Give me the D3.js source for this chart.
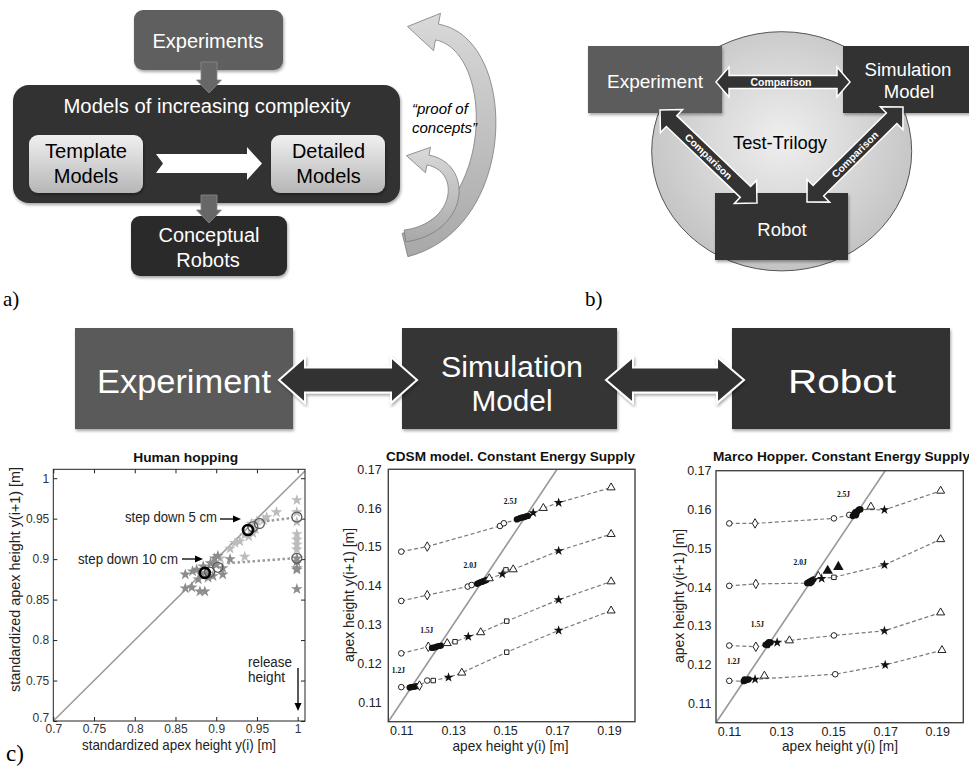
<!DOCTYPE html>
<html>
<head>
<meta charset="utf-8">
<script src="https://cdn.jsdelivr.net/npm/d3@7"></script>
<style>
body { margin: 0; background: #fff; }
svg { display: block; }
text { font-family: "Liberation Sans", Arial, sans-serif; }
</style>
</head>
<body>
<script>
// panel c, left: human hopping
var humanTicks = [0.7, 0.75, 0.8, 0.85, 0.9, 0.95, 1];
var hop5Stars = [[0.974,0.958],[0.962,0.952],[0.958,0.948],[0.950,0.947],[0.945,0.932],[0.935,0.930],[0.929,0.922],
  [0.923,0.920],[0.917,0.913],[0.905,0.901],[0.935,0.903],[0.943,0.944],[0.948,0.937],[0.940,0.928],
  [0.999,0.973],[0.999,0.958],[0.999,0.946],[0.999,0.931],[0.999,0.924],[0.999,0.918],[0.999,0.912]];
var hop10Stars = [[0.862,0.881],[0.871,0.885],[0.862,0.864],[0.870,0.865],[0.880,0.860],[0.886,0.860],[0.878,0.875],
  [0.890,0.877],[0.898,0.901],[0.900,0.893],[0.908,0.889],[0.908,0.881],[0.917,0.900],[0.896,0.879],[0.882,0.881],
  [0.884,0.891],[0.893,0.895],[0.902,0.904],[0.876,0.887],[0.889,0.882],
  [0.999,0.901],[0.999,0.897],[0.999,0.889],[0.999,0.887],[0.999,0.863]];
var hop5Circles = [[0.945,0.940],[0.953,0.944],[0.999,0.952]];
var hop10Circles = [[0.892,0.884],[0.902,0.890],[0.999,0.901]];
var hopMeans = [[0.939,0.936],[0.886,0.883]];
var hop5Dotted = [[0.962,0.947],[0.994,0.951]];
var hop10Dotted = [[0.914,0.895],[0.994,0.901]];

// panel c, middle and right: apex return maps
var apexXTicks = [0.11, 0.13, 0.15, 0.17, 0.19];
var apexYTicks = [0.11, 0.12, 0.13, 0.14, 0.15, 0.16, 0.17];
var energyNames = ["1.2J", "1.5J", "2.0J", "2.5J"];

var cdsm12 = [[0.110,0.1139,"o"],[0.1132,0.1138,"•"],[0.1138,0.1139,"•"],[0.1144,0.1140,"•"],[0.1150,0.1140,"•"],
  [0.1156,0.1141,"•"],[0.1162,0.1142,"•"],[0.1170,0.1143,"d"],[0.120,0.1156,"o"],[0.1223,0.1156,"s"],
  [0.1282,0.1164,"*"],[0.1333,0.1176,"^"],[0.1506,0.1229,"s"],[0.1706,0.1285,"*"],[0.1908,0.1336,"^"]];
var cdsm15 = [[0.110,0.1226,"o"],[0.1204,0.1243,"d"],[0.1218,0.1240,"•"],[0.1225,0.1241,"•"],[0.1232,0.1242,"•"],
  [0.1239,0.1244,"•"],[0.1246,0.1245,"•"],[0.1253,0.1246,"•"],[0.1277,0.1252,"^"],[0.1307,0.1256,"s"],
  [0.1358,0.1269,"*"],[0.1406,0.1280,"^"],[0.1506,0.1309,"s"],[0.1706,0.1364,"*"],[0.1908,0.1411,"^"]];
var cdsm20 = [[0.110,0.1361,"o"],[0.120,0.1376,"d"],[0.1356,0.1398,"o"],[0.1371,0.1402,"o"],[0.1392,0.1405,"•"],
  [0.1398,0.1407,"•"],[0.1404,0.1409,"•"],[0.1410,0.1410,"•"],[0.1416,0.1412,"•"],[0.1422,0.1413,"•"],[0.1428,0.1415,"•"],
  [0.1439,0.1419,"^"],[0.1489,0.1430,"*"],[0.1503,0.1441,"s"],[0.1531,0.1442,"^"],[0.1706,0.1490,"*"],[0.1908,0.1533,"^"]];
var cdsm25 = [[0.110,0.1488,"o"],[0.120,0.1501,"d"],[0.1480,0.1554,"o"],[0.1495,0.1561,"o"],[0.1545,0.1571,"•"],
  [0.1553,0.1573,"•"],[0.1560,0.1575,"•"],[0.1567,0.1576,"•"],[0.1574,0.1577,"•"],[0.1581,0.1579,"•"],[0.1588,0.1580,"•"],
  [0.1608,0.1588,"*"],[0.1647,0.1600,"^"],[0.1706,0.1614,"*"],[0.1908,0.1653,"^"]];
var cdsmLabelAt = [[0.1089,0.1175],[0.1198,0.1279],[0.1365,0.1445],[0.1520,0.1610]];

var marco12 = [[0.1101,0.1158,"o"],[0.1156,0.1157,"•"],[0.1160,0.1162,"•"],[0.1161,0.1158,"•"],[0.1166,0.1160,"•"],
  [0.1171,0.1161,"•"],[0.1176,0.1162,"•"],[0.1200,0.1162,"*"],[0.1236,0.1171,"^x"],[0.1508,0.1175,"o"],
  [0.1700,0.1199,"*"],[0.1918,0.1237,"^"]];
var marco15 = [[0.1101,0.1249,"o"],[0.1203,0.1246,"d"],[0.1240,0.1251,"•"],[0.1245,0.1253,"•"],[0.1248,0.1250,"•"],
  [0.1250,0.1255,"•"],[0.1253,0.1258,"•"],[0.1255,0.1256,"•"],[0.1260,0.1257,"•"],[0.1285,0.1257,"*"],
  [0.1332,0.1262,"^"],[0.1503,0.1275,"o"],[0.1697,0.1287,"*"],[0.1913,0.1334,"^"]];
var marco20 = [[0.1101,0.1403,"o"],[0.1203,0.1408,"d"],[0.1400,0.1410,"•"],[0.1405,0.1412,"•"],[0.1410,0.1414,"•"],
  [0.1412,0.1410,"•"],[0.1415,0.1416,"•"],[0.1418,0.1413,"•"],[0.1420,0.1418,"•"],[0.1425,0.1420,"•"],
  [0.1443,0.1428,"^x"],[0.1456,0.1422,"*"],[0.1479,0.1442,"^f"],[0.1503,0.1425,"s"],[0.1520,0.1452,"^f"],
  [0.1697,0.1457,"*"],[0.1913,0.1523,"^"]];
var marco25 = [[0.1101,0.1564,"o"],[0.1200,0.1564,"d"],[0.1503,0.1577,"o"],[0.1562,0.1586,"o"],[0.1575,0.1583,"•"],
  [0.1580,0.1588,"•"],[0.1585,0.1593,"•"],[0.1588,0.1585,"•"],[0.1590,0.1590,"•"],[0.1595,0.1597,"•"],
  [0.1600,0.1600,"•"],[0.1605,0.1600,"•"],[0.1645,0.1607,"^x"],[0.1697,0.1599,"*"],[0.1913,0.1648,"^"]];
var marcoLabelAt = [[0.1117,0.1201],[0.1209,0.1298],[0.1373,0.1457],[0.1540,0.1633]];

var svg = d3.select("body").append("svg").attr("width", 969).attr("height", 768);
var defs = svg.append("defs");

function linGrad(id, c0, c1) {
  var g = defs.append("linearGradient").attr("id", id)
    .attr("x1", 0).attr("y1", 0).attr("x2", 0).attr("y2", 1);
  g.append("stop").attr("offset", "0%").attr("stop-color", c0);
  g.append("stop").attr("offset", "100%").attr("stop-color", c1);
}
linGrad("light", "#f0f0f0", "#b6b6b6");
linGrad("curve", "#d9d9d9", "#a8a8a8");
var rg = defs.append("radialGradient").attr("id", "disc").attr("cx", "50%").attr("cy", "45%").attr("r", "55%");
rg.append("stop").attr("offset", "0%").attr("stop-color", "#efefef");
rg.append("stop").attr("offset", "100%").attr("stop-color", "#c3c3c3");
var sh = defs.append("filter").attr("id", "shadow")
  .attr("x", "-10%").attr("y", "-10%").attr("width", "130%").attr("height", "140%");
sh.append("feDropShadow").attr("dx", 1).attr("dy", 2).attr("stdDeviation", 1.5).attr("flood-opacity", 0.35);

function txt(g, x, y, s, size, opt) {
  opt = opt || {};
  var t = g.append("text").attr("x", x).attr("y", y).text(s)
    .attr("text-anchor", opt.anchor || "middle")
    .style("font-size", size + "px")
    .style("fill", opt.fill || "#000");
  if (opt.bold) t.style("font-weight", "bold");
  if (opt.italic) t.style("font-style", "italic");
  if (opt.family) t.style("font-family", opt.family);
  if (opt.len) t.attr("textLength", opt.len).attr("lengthAdjust", "spacingAndGlyphs");
  if (opt.rotate) t.attr("transform", "rotate(" + opt.rotate + "," + x + "," + y + ")");
  if (opt.dy) t.attr("dy", opt.dy);
  return t;
}

function box(g, x, y, w, h, r, fill, shadow) {
  var b = g.append("rect").attr("x", x).attr("y", y).attr("width", w).attr("height", h)
    .attr("rx", r).attr("fill", fill);
  if (shadow) b.attr("filter", "url(#shadow)");
  return b;
}

function dblArrow(g, x1, y1, x2, y2, sw, hw, hl, sWidth) {
  var L = Math.hypot(x2 - x1, y2 - y1);
  var a = Math.atan2(y2 - y1, x2 - x1) * 180 / Math.PI;
  var pts = [[0,0],[hl,-hw],[hl,-sw],[L-hl,-sw],[L-hl,-hw],[L,0],[L-hl,hw],[L-hl,sw],[hl,sw],[hl,hw]];
  return g.append("path").attr("d", "M" + pts.join("L") + "Z")
    .attr("transform", "translate(" + x1 + "," + y1 + ") rotate(" + a + ")")
    .attr("fill", "#333").attr("stroke", "#fff").attr("stroke-width", sWidth);
}

function downArrow(g, cx, y0, y1) {
  var pts = [[cx-8,y0],[cx+8,y0],[cx+8,y1-13],[cx+12.5,y1-13],[cx,y1],[cx-12.5,y1-13],[cx-8,y1-13]];
  g.append("path").attr("d", "M" + pts.join("L") + "Z")
    .attr("fill", "#676767").attr("stroke", "#8c8c8c").attr("stroke-width", 0.8);
}

function curvedArrow(g, p, w0, w1, hl, hw) {
  function B(t) { return [0, 1].map(function(i) {
    return (1-t)*(1-t)*(1-t)*p[0][i] + 3*(1-t)*(1-t)*t*p[1][i] + 3*(1-t)*t*t*p[2][i] + t*t*t*p[3][i]; }); }
  function D(t) { return [0, 1].map(function(i) {
    return 3*(1-t)*(1-t)*(p[1][i]-p[0][i]) + 6*(1-t)*t*(p[2][i]-p[1][i]) + 3*t*t*(p[3][i]-p[2][i]); }); }
  var left = [], right = [];
  for (var k = 0; k <= 40; k++) {
    var t = k / 40, b = B(t), d = D(t), n = Math.hypot(d[0], d[1]);
    var nx = -d[1] / n, ny = d[0] / n, w = (w0 + (w1 - w0) * t) / 2;
    left.push([b[0] + nx * w, b[1] + ny * w]);
    right.push([b[0] - nx * w, b[1] - ny * w]);
  }
  var e = p[3], de = D(1), ne = Math.hypot(de[0], de[1]), ux = de[0] / ne, uy = de[1] / ne;
  var head = [[e[0] - uy * hw, e[1] + ux * hw], [e[0] + ux * hl, e[1] + uy * hl], [e[0] + uy * hw, e[1] - ux * hw]];
  var pts = left.concat(head, right.reverse());
  g.append("path").attr("d", "M" + pts.join("L") + "Z")
    .attr("fill", "url(#curve)").attr("stroke", "#7c7c7c").attr("stroke-width", 0.8);
}

// ---------- panel a ----------
var pa = svg.append("g");
box(pa, 134, 10, 149, 60, 9, "#5f5f5f", true);
box(pa, 13, 85, 387, 118, 16, "#333", true);
box(pa, 29, 135, 114, 58, 9, "url(#light)", true);
box(pa, 271, 135, 114, 58, 9, "url(#light)", true);
box(pa, 131, 216, 156, 60, 9, "#2b2b2b", true);
pa.append("path")
  .attr("d", "M" + [[156,154],[247,154],[247,147],[262,163.5],[247,180],[247,173],[156,173],[163,163.5]].join("L") + "Z")
  .attr("fill", "#fff");
downArrow(pa, 209, 62, 93);
downArrow(pa, 209, 195, 223);
txt(pa, 208, 48, "Experiments", 20, { fill: "#fff", len: 111 });
txt(pa, 207, 113, "Models of increasing complexity", 20, { fill: "#fff", len: 287 });
txt(pa, 86, 158, "Template", 20, { len: 82 });
txt(pa, 86, 183, "Models", 20);
txt(pa, 328.5, 158, "Detailed", 20, { len: 73 });
txt(pa, 328.5, 183, "Models", 20);
txt(pa, 209, 241.5, "Conceptual", 20, { fill: "#fff", len: 101 });
txt(pa, 208, 266.5, "Robots", 20, { fill: "#fff" });
curvedArrow(pa, [[405,245],[507,220],[507,45],[437,32]], 24, 16, 30, 19);
curvedArrow(pa, [[405,236],[462,228],[468,168],[428,160]], 12, 10, 22, 13);
txt(pa, 412, 114, "\u201cproof of", 15, { anchor: "start", italic: true });
txt(pa, 412, 133, "concepts\u201d", 15, { anchor: "start", italic: true });

// ---------- panel b ----------
var pb = svg.append("g");
pb.append("ellipse").attr("cx", 781.7).attr("cy", 151.3).attr("rx", 130).attr("ry", 119.6)
  .attr("fill", "url(#disc)").attr("stroke", "#555").attr("stroke-width", 1);
box(pb, 588, 46, 134, 67, 0, "#5c5c5c", true);
box(pb, 843, 46, 140, 67, 0, "#333", true);
box(pb, 715, 193, 133, 67, 0, "#333", true);
dblArrow(pb, 716, 82, 850, 82, 6.5, 15, 13, 1.5);
dblArrow(pb, 660, 110, 757, 203, 7.5, 16, 16, 1.5);
dblArrow(pb, 903, 107, 807, 202, 7.5, 16, 16, 1.5);
txt(pb, 655, 87.5, "Experiment", 18.5, { fill: "#fff", len: 96 });
txt(pb, 908, 76, "Simulation", 18.5, { fill: "#fff", len: 87 });
txt(pb, 909, 98, "Model", 18.5, { fill: "#fff" });
txt(pb, 780, 149, "Test-Trilogy", 18.5, { len: 94 });
txt(pb, 782, 236, "Robot", 18.5, { fill: "#fff" });
txt(pb, 781, 85.5, "Comparison", 10, { fill: "#fff", bold: true, len: 61 });
txt(pb, 708.5, 156.5, "Comparison", 10, { fill: "#fff", bold: true, rotate: 43.8, dy: "0.35em", len: 61 });
txt(pb, 855, 154.5, "Comparison", 10, { fill: "#fff", bold: true, rotate: -44.7, dy: "0.35em", len: 61 });

// ---------- banner ----------
var pc = svg.append("g");
box(pc, 75, 328, 218, 101, 0, "#5a5a5a", true);
box(pc, 402, 328, 215, 101, 0, "#343434", true);
box(pc, 732, 328, 218, 101, 0, "#333", true);
dblArrow(pc, 279, 380, 417, 380, 12.5, 23, 26, 2).attr("filter", "url(#shadow)");
dblArrow(pc, 606, 380, 744, 380, 12.5, 23, 27, 2).attr("filter", "url(#shadow)");
txt(pc, 184, 393, "Experiment", 33, { fill: "#fff", len: 174 });
txt(pc, 512, 376.5, "Simulation", 30, { fill: "#fff", len: 142 });
txt(pc, 512, 410.5, "Model", 30, { fill: "#fff", len: 81 });
txt(pc, 842, 393, "Robot", 33, { fill: "#fff", len: 108 });

// panel letters
var serif = "'Liberation Serif', 'DejaVu Serif', serif";
txt(svg, 3, 306, "a)", 21, { anchor: "start", family: serif });
txt(svg, 585, 306, "b)", 21, { anchor: "start", family: serif });
txt(svg, 6, 761, "c)", 23, { anchor: "start", family: serif });

// ---------- human hopping ----------
var hx = d3.scaleLinear().domain([0.7, 1.009]).range([53.3, 305]);
var hy = d3.scaleLinear().domain([0.7, 1.011]).range([721, 469.3]);
var p1 = svg.append("g");
var fmt = d3.format("~g");
function styleAxis(sel, size, color) {
  sel.select(".domain").remove();
  sel.selectAll(".tick line").attr("stroke", "#222");
  sel.selectAll(".tick text").style("font-size", size + "px").style("fill", color);
}
p1.append("g").attr("transform", "translate(0,721)")
  .call(d3.axisBottom(hx).tickValues(humanTicks).tickSize(-4).tickPadding(3).tickFormat(fmt))
  .call(styleAxis, 12, "#333");
p1.append("g").attr("transform", "translate(0,469.3)")
  .call(d3.axisTop(hx).tickValues(humanTicks).tickSize(-4).tickFormat(""))
  .call(styleAxis, 12, "#333");
p1.append("g").attr("transform", "translate(53.3,0)")
  .call(d3.axisLeft(hy).tickValues(humanTicks).tickSize(-4).tickPadding(4).tickFormat(fmt))
  .call(styleAxis, 12, "#333")
  .selectAll(".tick text").filter(function(d) { return d === 0.7; }).attr("dy", "0.05em");
p1.append("g").attr("transform", "translate(305,0)")
  .call(d3.axisRight(hy).tickValues(humanTicks).tickSize(-4).tickFormat(""))
  .call(styleAxis, 12, "#333");
p1.append("line").attr("x1", hx(0.7)).attr("y1", hy(0.7)).attr("x2", hx(1.009)).attr("y2", hy(1.009))
  .attr("stroke", "#9a9a9a").attr("stroke-width", 1.5);
var star = d3.symbol().type(d3.symbolStar).size(42);
p1.selectAll(".s5").data(hop5Stars).enter().append("path").attr("d", star)
  .attr("transform", function(d) { return "translate(" + hx(d[0]) + "," + hy(d[1]) + ")"; })
  .attr("fill", "#bcbcbc");
p1.selectAll(".s10").data(hop10Stars).enter().append("path").attr("d", star)
  .attr("transform", function(d) { return "translate(" + hx(d[0]) + "," + hy(d[1]) + ")"; })
  .attr("fill", "#8c8c8c");
var hline = d3.line().x(function(d) { return hx(d[0]); }).y(function(d) { return hy(d[1]); });
[hop5Dotted, hop10Dotted].forEach(function(dl) {
  p1.append("path").attr("d", hline(dl)).attr("fill", "none")
    .attr("stroke", "#9a9a9a").attr("stroke-width", 2.5).attr("stroke-dasharray", "2.5,2.5");
});
p1.selectAll(".hc").data(hop5Circles.concat(hop10Circles)).enter().append("circle")
  .attr("cx", function(d) { return hx(d[0]); }).attr("cy", function(d) { return hy(d[1]); })
  .attr("r", 5).attr("fill", "none").attr("stroke", "#555").attr("stroke-width", 1.2);
p1.selectAll(".hm").data(hopMeans).enter().append("circle")
  .attr("cx", function(d) { return hx(d[0]); }).attr("cy", function(d) { return hy(d[1]); })
  .attr("r", 5).attr("fill", "none").attr("stroke", "#000").attr("stroke-width", 2.6);
p1.append("rect").attr("x", 53.3).attr("y", 469.3).attr("width", 251.7).attr("height", 251.7)
  .attr("fill", "none").attr("stroke", "#222");

function arrowTo(g, x1, y1, x2, y2) {
  var a = Math.atan2(y2 - y1, x2 - x1), L = Math.hypot(x2 - x1, y2 - y1);
  var c = g.append("g").attr("transform", "translate(" + x1 + "," + y1 + ") rotate(" + a * 180 / Math.PI + ")");
  c.append("line").attr("x1", 0).attr("y1", 0).attr("x2", L - 6).attr("y2", 0).attr("stroke", "#000").attr("stroke-width", 1.3);
  c.append("path").attr("d", "M" + L + ",0L" + (L - 8) + ",-3.5L" + (L - 8) + ",3.5Z").attr("fill", "#000");
}
txt(p1, 217, 522, "step down 5 cm", 14, { anchor: "end", fill: "#222", len: 92 });
arrowTo(p1, 220, 519, 241, 519);
txt(p1, 178, 564, "step down 10 cm", 14, { anchor: "end", fill: "#222", len: 100 });
arrowTo(p1, 182, 559, 203, 559);
txt(p1, 248, 667, "release", 14, { anchor: "start", fill: "#222", len: 44 });
txt(p1, 248, 682, "height", 14, { anchor: "start", fill: "#222", len: 37 });
arrowTo(p1, 298, 668, 298, 711);
txt(p1, 185.7, 462, "Human hopping", 13.5, { bold: true, fill: "#111", len: 105 });
txt(p1, 179, 750, "standardized apex height y(i) [m]", 14.5, { fill: "#222", len: 194 });
txt(p1, 20, 579.5, "standardized apex height y(i+1) [m]", 14.5, { fill: "#222", len: 225, rotate: -90 });

// ---------- apex height plots ----------
var symbolFor = {
  "d": d3.symbol().type(d3.symbolDiamond).size(26),
  "s": d3.symbol().type(d3.symbolSquare).size(20),
  "*": d3.symbol().type(d3.symbolStar).size(30),
  "^": d3.symbol().type(d3.symbolTriangle).size(28),
  "^x": d3.symbol().type(d3.symbolTriangle).size(28),
  "^f": d3.symbol().type(d3.symbolTriangle).size(48)
};

function apexPlot(cfg) {
  var x = d3.scaleLinear().domain([0.105, 0.2]).range([cfg.left, cfg.right]);
  var y = d3.scaleLinear().domain([0.105, 0.17]).range([cfg.bottom, cfg.top]);
  var g = svg.append("g");
  g.append("g").attr("transform", "translate(0," + cfg.bottom + ")")
    .call(d3.axisBottom(x).tickValues(apexXTicks).tickSize(0).tickPadding(4).tickFormat(d3.format(".2f")))
    .call(styleAxis, 12.5, "#222");
  g.append("g").attr("transform", "translate(" + cfg.left + ",0)")
    .call(d3.axisLeft(y).tickValues(apexYTicks).tickSize(0).tickPadding(cfg.ypad).tickFormat(d3.format(".2f")))
    .call(styleAxis, 12.5, "#222");
  g.append("line").attr("x1", x(0.105)).attr("y1", y(0.105)).attr("x2", x(0.17)).attr("y2", y(0.17))
    .attr("stroke", "#999").attr("stroke-width", 1.6);
  var line = d3.line().x(function(d) { return x(d[0]); }).y(function(d) { return y(d[1]); });
  cfg.curves.forEach(function(c) {
    var pts = c.filter(function(d) { return d[2] !== "^x" && d[2] !== "^f"; })
      .sort(function(a, b) { return a[0] - b[0]; });
    g.append("path").attr("d", line(pts)).attr("fill", "none")
      .attr("stroke", "#7a7a7a").attr("stroke-width", 1.2).attr("stroke-dasharray", "4,2.5");
  });
  cfg.curves.forEach(function(c) {
    c.forEach(function(d) {
      var px = x(d[0]), py = y(d[1]), t = d[2];
      if (t === "o") {
        g.append("circle").attr("cx", px).attr("cy", py).attr("r", 2.8)
          .attr("fill", "#fff").attr("stroke", "#222").attr("stroke-width", 1);
      } else if (t === "•") {
        g.append("circle").attr("cx", px).attr("cy", py).attr("r", 3.1).attr("fill", "#111");
      } else {
        var solid = (t === "*" || t === "^f");
        g.append("path").attr("d", symbolFor[t]).attr("transform", "translate(" + px + "," + py + ")")
          .attr("fill", solid ? "#111" : "#fff").attr("stroke", solid ? "none" : "#222").attr("stroke-width", 1);
      }
    });
  });
  cfg.labels.forEach(function(d, i) {
    txt(g, x(d[0]), y(d[1]), energyNames[i], 7.5, { bold: true, family: serif, fill: "#111" });
  });
  g.append("rect").attr("x", cfg.left).attr("y", cfg.top)
    .attr("width", cfg.right - cfg.left).attr("height", cfg.bottom - cfg.top)
    .attr("fill", "none").attr("stroke", "#444").attr("stroke-width", 1.4);
  txt(g, cfg.titleX, 460.5, cfg.title, 13.6, { bold: true, anchor: cfg.titleAnchor, len: cfg.titleLen, fill: "#111" });
  txt(g, cfg.xlabX, 751, "apex height y(i) [m]", 15, { len: 116, fill: "#222" });
  txt(g, cfg.ylabX, cfg.ylabY, "apex height y(i+1) [m]", 15, { len: 134, fill: "#222", rotate: -90 });
}

apexPlot({ left: 388.3, right: 635, top: 469.3, bottom: 721.7, ypad: 6.6,
  curves: [cdsm12, cdsm15, cdsm20, cdsm25], labels: cdsmLabelAt,
  title: "CDSM model. Constant Energy Supply", titleX: 510.5, titleAnchor: "middle", titleLen: 249,
  xlabX: 510.5, ylabX: 354, ylabY: 595 });
apexPlot({ left: 716, right: 963.3, top: 470.7, bottom: 722.7, ypad: 4.5,
  curves: [marco12, marco15, marco20, marco25], labels: marcoLabelAt,
  title: "Marco Hopper. Constant Energy Supply", titleX: 713, titleAnchor: "start", titleLen: 257,
  xlabX: 840, ylabX: 684, ylabY: 596 });
</script>
</body>
</html>
